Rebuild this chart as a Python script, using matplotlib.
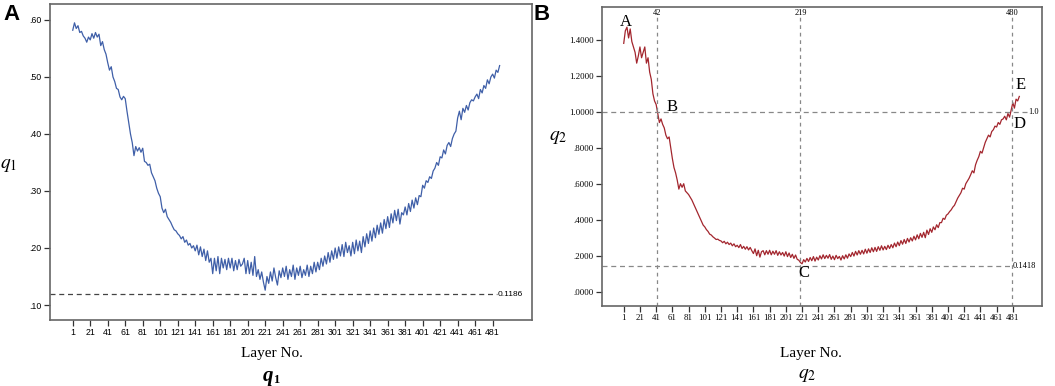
import numpy as np
import matplotlib
matplotlib.use("Agg")
import matplotlib.pyplot as plt

plt.rcParams["font.family"] = "Liberation Sans"
plt.rcParams["mathtext.fontset"] = "stix"

# layer numbers (every second layer)
layers = np.arange(1, 490, 2)

q1 = [
    0.582, 0.595, 0.585, 0.590, 0.578, 0.580, 0.572, 0.568, 0.561, 0.570,
    0.565, 0.576, 0.568, 0.578, 0.570, 0.575, 0.555, 0.562, 0.548, 0.540,
    0.525, 0.512, 0.518, 0.500, 0.492, 0.480, 0.478, 0.465, 0.460, 0.466,
    0.462, 0.440, 0.420, 0.400, 0.385, 0.362, 0.378, 0.370, 0.376, 0.368,
    0.375, 0.352, 0.350, 0.345, 0.347, 0.332, 0.325, 0.318, 0.305, 0.296,
    0.290, 0.270, 0.262, 0.268, 0.255, 0.250, 0.245, 0.238, 0.232, 0.230,
    0.225, 0.222, 0.216, 0.220, 0.210, 0.214, 0.205, 0.208, 0.200, 0.204,
    0.195, 0.205, 0.188, 0.202, 0.185, 0.198, 0.178, 0.195, 0.175, 0.182,
    0.155, 0.182, 0.160, 0.185, 0.155, 0.182, 0.165, 0.180, 0.162, 0.182,
    0.165, 0.182, 0.160, 0.178, 0.162, 0.180, 0.168, 0.172, 0.182, 0.155,
    0.178, 0.155, 0.175, 0.152, 0.185, 0.150, 0.162, 0.145, 0.158, 0.140,
    0.126, 0.150, 0.138, 0.158, 0.142, 0.165, 0.148, 0.135, 0.160, 0.148,
    0.165, 0.150, 0.168, 0.145, 0.162, 0.150, 0.170, 0.145, 0.165, 0.152,
    0.168, 0.148, 0.162, 0.152, 0.170, 0.150, 0.168, 0.155, 0.175, 0.158,
    0.175, 0.162, 0.182, 0.168, 0.186, 0.172, 0.192, 0.175, 0.195, 0.180,
    0.200, 0.182, 0.202, 0.186, 0.206, 0.185, 0.210, 0.192, 0.204, 0.186,
    0.210, 0.190, 0.214, 0.195, 0.212, 0.192, 0.220, 0.202, 0.225, 0.208,
    0.230, 0.212, 0.235, 0.218, 0.240, 0.224, 0.244, 0.226, 0.250, 0.234,
    0.255, 0.236, 0.260, 0.244, 0.266, 0.248, 0.268, 0.242, 0.262, 0.258,
    0.272, 0.258, 0.278, 0.264, 0.284, 0.270, 0.288, 0.276, 0.292, 0.290,
    0.310, 0.305, 0.318, 0.315, 0.325, 0.322, 0.335, 0.340, 0.350, 0.345,
    0.360, 0.358, 0.372, 0.365, 0.380, 0.385, 0.378, 0.392, 0.400, 0.405,
    0.428, 0.440, 0.425, 0.445, 0.438, 0.450, 0.442, 0.455, 0.460, 0.458,
    0.465, 0.470, 0.462, 0.478, 0.472, 0.485, 0.480, 0.495, 0.488, 0.500,
    0.505, 0.498, 0.512, 0.508, 0.520,
]

q2 = [
    1.380, 1.450, 1.470, 1.410, 1.460, 1.390, 1.360, 1.330, 1.270, 1.310,
    1.360, 1.300, 1.330, 1.360, 1.270, 1.300, 1.220, 1.180, 1.100, 1.060,
    1.040, 0.990, 0.940, 0.960, 0.930, 0.910, 0.870, 0.850, 0.860, 0.800,
    0.740, 0.690, 0.660, 0.620, 0.570, 0.600, 0.580, 0.600, 0.560, 0.550,
    0.540, 0.525, 0.510, 0.490, 0.470, 0.450, 0.430, 0.410, 0.390, 0.370,
    0.360, 0.345, 0.335, 0.320, 0.315, 0.305, 0.298, 0.290, 0.292, 0.285,
    0.282, 0.272, 0.280, 0.266, 0.275, 0.262, 0.270, 0.255, 0.266, 0.250,
    0.258, 0.245, 0.262, 0.240, 0.252, 0.236, 0.250, 0.232, 0.246, 0.228,
    0.212, 0.238, 0.200, 0.230, 0.192, 0.222, 0.228, 0.205, 0.228, 0.208,
    0.230, 0.205, 0.225, 0.208, 0.228, 0.202, 0.222, 0.204, 0.218, 0.198,
    0.222, 0.195, 0.215, 0.190, 0.208, 0.185, 0.204, 0.180, 0.175, 0.162,
    0.155, 0.178, 0.165, 0.185, 0.168, 0.190, 0.172, 0.195, 0.170, 0.192,
    0.176, 0.200, 0.182, 0.205, 0.184, 0.202, 0.186, 0.206, 0.180, 0.198,
    0.178, 0.202, 0.184, 0.196, 0.176, 0.200, 0.182, 0.205, 0.186, 0.210,
    0.195, 0.218, 0.198, 0.224, 0.204, 0.228, 0.208, 0.230, 0.210, 0.236,
    0.214, 0.238, 0.218, 0.244, 0.222, 0.246, 0.224, 0.250, 0.230, 0.255,
    0.232, 0.252, 0.234, 0.258, 0.240, 0.262, 0.244, 0.270, 0.250, 0.276,
    0.256, 0.284, 0.264, 0.290, 0.268, 0.296, 0.276, 0.300, 0.282, 0.308,
    0.288, 0.316, 0.294, 0.324, 0.302, 0.330, 0.300, 0.342, 0.318, 0.350,
    0.330, 0.360, 0.344, 0.372, 0.356, 0.384, 0.384, 0.408, 0.402, 0.425,
    0.432, 0.445, 0.455, 0.470, 0.480, 0.500, 0.520, 0.535, 0.550, 0.575,
    0.570, 0.600, 0.615, 0.630, 0.650, 0.672, 0.660, 0.705, 0.730, 0.750,
    0.780, 0.770, 0.800, 0.830, 0.850, 0.870, 0.860, 0.890, 0.900, 0.920,
    0.915, 0.940, 0.930, 0.955, 0.960, 0.975, 0.955, 0.990, 0.970, 1.010,
    1.050, 1.020, 1.070, 1.060, 1.085,
]

x_ticks = list(range(1, 482, 20))
q1_yticks = [0.10, 0.20, 0.30, 0.40, 0.50, 0.60]
q1_ylabels = [".10", ".20", ".30", ".40", ".50", ".60"]
q2_yticks = [0.0, 0.2, 0.4, 0.6, 0.8, 1.0, 1.2, 1.4]
q2_ylabels = [".0000", ".2000", ".4000", ".6000", ".8000", "1.0000", "1.2000", "1.4000"]

q1_ref = 0.1186
q2_ref = 0.1418
q2_one = 1.0
mark_layers = [42, 219, 480]
points = {"A": (4, 1.50), "B": (61, 1.027), "C": (223, 0.104), "D": (489, 0.93), "E": (490, 1.15)}

W, H = 1055, 386
fig = plt.figure(figsize=(W / 100, H / 100), dpi=100)

# ---- panel A ----
ax1 = fig.add_axes([50 / W, 1 - 320 / H, 482 / W, 316 / H])
ax1.plot(layers, q1, color="#3f5fa8", lw=0.9)
ax1.axhline(q1_ref, xmax=0.927, color="#444444", ls=(0, (4, 3)), lw=0.9)
ax1.text(0.928, q1_ref, "0.1186", transform=ax1.get_yaxis_transform(),
         fontsize=6, va="center", ha="left")
ax1.set_xlim(-25, 526)
ax1.set_ylim(0.0737, 0.628)
ax1.set_xticks(x_ticks)
ax1.set_xticklabels([str(t) for t in x_ticks], fontsize=6.3)
ax1.set_yticks(q1_yticks)
ax1.set_yticklabels(q1_ylabels, fontsize=6.3)

# ---- panel B ----
ax2 = fig.add_axes([602 / W, 1 - 306 / H, 440 / W, 299 / H])
ax2.plot(layers, q2, color="#a3262e", lw=0.9)
for m in mark_layers:
    ax2.axvline(m, ymax=0.967, color="#888888", ls=(0, (3, 3)), lw=0.9)
    ax2.text(m, 1.55, str(m), fontsize=6, family="Liberation Serif",
             ha="center", va="center")
ax2.axhline(q2_one, xmax=0.966, color="#888888", ls=(0, (4, 3)), lw=0.9)
ax2.axhline(q2_ref, xmax=0.932, color="#888888", ls=(0, (4, 3)), lw=0.9)
ax2.text(0.968, q2_one, "1.0", transform=ax2.get_yaxis_transform(),
         fontsize=6, family="Liberation Serif", va="center", ha="left")
ax2.text(0.934, q2_ref, "0.1418", transform=ax2.get_yaxis_transform(),
         fontsize=6, family="Liberation Serif", va="center", ha="left")
for k, (px, py) in points.items():
    ax2.text(px, py, k, fontsize=12, family="Liberation Serif", ha="center", va="center")
ax2.set_xlim(-25.8, 517)
ax2.set_ylim(-0.0795, 1.582)
ax2.set_xticks(x_ticks)
ax2.set_xticklabels([str(t) for t in x_ticks], fontsize=6.3, family="Liberation Serif")
ax2.set_yticks(q2_yticks)
ax2.set_yticklabels(q2_ylabels, fontsize=6.3, family="Liberation Serif")

for ax in (ax1, ax2):
    for s in ax.spines.values():
        s.set_color("#666666")
        s.set_linewidth(1.2)
    ax.tick_params(axis="both", direction="out", length=4, width=0.9,
                   color="#333333", pad=2)

# labels
fig.text(272 / W, 1 - 353 / H, "Layer No.", family="Liberation Serif", fontsize=11,
         ha="center", va="center")
fig.text(273 / W, 1 - 376 / H, "q", family="Liberation Serif", style="italic",
         fontweight="bold", fontsize=15, ha="right", va="center")
fig.text(273 / W, 1 - 380 / H, "1", family="Liberation Serif",
         fontweight="bold", fontsize=9, ha="left", va="center")
fig.text(811 / W, 1 - 353 / H, "Layer No.", family="Liberation Serif", fontsize=11,
         ha="center", va="center")
fig.text(807 / W, 1 - 376 / H, r"$q_2$", fontsize=14, ha="center", va="center")
fig.text(9 / W, 1 - 165 / H, r"$q_1$", fontsize=14, ha="center", va="center")
fig.text(558 / W, 1 - 138 / H, r"$q_2$", fontsize=14, ha="center", va="center")

fig.text(12 / W, 1 - 15 / H, "A", fontsize=16, fontweight="bold", ha="center", va="center")
fig.text(542 / W, 1 - 15 / H, "B", fontsize=16, fontweight="bold", ha="center", va="center")

fig.savefig("out.png", dpi=100)
